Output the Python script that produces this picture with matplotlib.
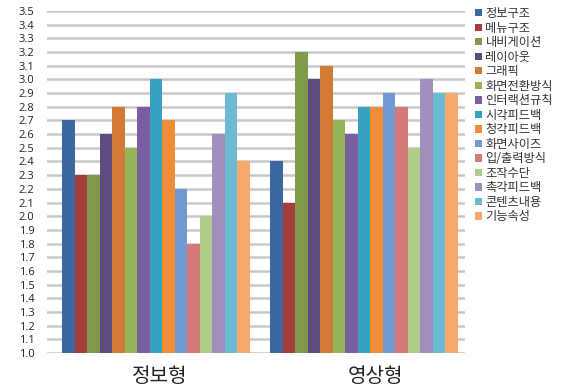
import matplotlib
matplotlib.use("Agg")
import matplotlib.pyplot as plt
import numpy as np
from matplotlib.patches import Patch
from matplotlib.transforms import ScaledTranslation

plt.rcParams['font.family'] = ['Noto Sans CJK KR', 'DejaVu Sans']

categories = ['정보형', '영상형']
series_names = ['정보구조', '메뉴구조', '내비게이션', '레이아웃', '그래픽', '화면전환방식',
                '인터랙션규칙', '시각피드백', '청각피드백', '화면사이즈', '입/출력방식',
                '조작수단', '촉각피드백', '콘텐츠내용', '기능속성']
info_values = [2.7, 2.3, 2.3, 2.6, 2.8, 2.5, 2.8, 3.0, 2.7, 2.2, 1.8, 2.0, 2.6, 2.9, 2.4]
video_values = [2.4, 2.1, 3.2, 3.0, 3.1, 2.7, 2.6, 2.8, 2.8, 2.9, 2.8, 2.5, 3.0, 2.9, 2.9]
colors = ['#3C67A0', '#A53D3A', '#7F9B48', '#5E4B80', '#D07A35', '#94B457',
          '#7B5CA0', '#35A3BF', '#EF8D3A', '#7399D3', '#D4797A', '#B1CB88',
          '#9F8FBD', '#6DBAD3', '#F7A86D']
yticks = np.round(np.arange(1.0, 3.51, 0.1), 1)

fig = plt.figure(figsize=(5.69, 3.86), dpi=100)
ax = fig.add_axes([47/569, 1 - 353/386, (465-47)/569, (353-11)/386])

n = len(series_names)
bw = 0.06
x = np.arange(len(categories))
for i in range(n):
    vals = [info_values[i], video_values[i]]
    offs = (i - (n - 1) / 2) * bw
    ax.bar(x + offs, np.array(vals) - 1.0, bw, bottom=1.0, color=colors[i], zorder=3,
           linewidth=0)

ax.set_xlim(-0.524, 1.486)
ax.set_ylim(1.0, 3.5)
ax.set_yticks(yticks)
ax.set_yticklabels([f'{v:.1f}' for v in yticks], fontsize=8, color='#222222',
                   family=['Open Sans', 'DejaVu Sans'])
ax.yaxis.grid(True, color='#C8C8C8', linewidth=1.8, zorder=0)
ax.set_axisbelow(True)
ax.tick_params(axis='y', length=0, pad=9)
ax.set_xticks(x)
ax.set_xticklabels(categories, fontsize=14.5, color='#222222')
ax.tick_params(axis='x', length=0, pad=9)
lbls = ax.get_xticklabels()
lbls[0].set_transform(lbls[0].get_transform() + ScaledTranslation(4/100, 0, fig.dpi_scale_trans))
lbls[1].set_transform(lbls[1].get_transform() + ScaledTranslation(12/100, 0, fig.dpi_scale_trans))
for s in ax.spines.values():
    s.set_visible(False)

handles = [Patch(facecolor=c, edgecolor='none') for c in colors]
fig.legend(handles, series_names, loc='upper left', bbox_to_anchor=(475/569, 1 - 7/386),
           frameon=False, fontsize=8.8, handlelength=0.55, handleheight=0.55,
           handletextpad=0.3, labelspacing=0.125, borderaxespad=0, borderpad=0,
           labelcolor='#333333')

fig.savefig('out.png', dpi=100, facecolor='white')
